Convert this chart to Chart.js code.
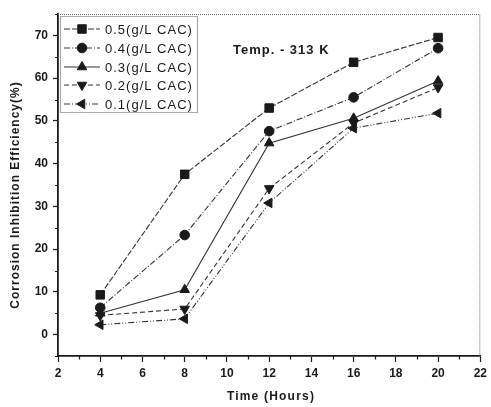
<!DOCTYPE html>
<html>
<head>
<meta charset="utf-8">
<script src="https://cdn.jsdelivr.net/npm/chart.js@4.4.1/dist/chart.umd.min.js"></script>
<style>
  html, body { margin: 0; padding: 0; background: #fff; }
  #wrap { width: 491px; height: 407px; }
</style>
</head>
<body>
<div id="wrap"><canvas id="chart" width="491" height="407"></canvas></div>
<script>
// Datos
const hours = [4, 8, 12, 16, 20];
const seriesLabels = ['0.5(g/L CAC)', '0.4(g/L CAC)', '0.3(g/L CAC)', '0.2(g/L CAC)', '0.1(g/L CAC)'];
const cac05 = [9.3, 37.5, 53.0, 63.7, 69.5];
const cac04 = [6.3, 23.3, 47.6, 55.5, 67.0];
const cac03 = [5.0, 10.5, 44.8, 50.6, 59.3];
const cac02 = [4.5, 6.0, 34.2, 49.5, 57.8];
const cac01 = [2.3, 3.7, 30.8, 48.3, 51.8];
const xTicks = [2, 4, 6, 8, 10, 12, 14, 16, 18, 20, 22];
const yTicks = [0, 10, 20, 30, 40, 50, 60, 70];

const FONT = 'Liberation Sans, Arial, sans-serif';
const INK = '#1a1a1a';

const styles = [
    { dash: [6, 2], point: 'rect', rot: 0, r: 6 },
    { dash: [6, 2, 1, 2], point: 'circle', rot: 0, r: 4.8 },
    { dash: [], point: 'triangle', rot: 0, r: 5.5 },
    { dash: [5, 3], point: 'triangle', rot: 180, r: 5.5 },
    { dash: [6, 2, 1, 2, 1, 2], point: 'triangle', rot: -90, r: 5.5 }
];

function makeDataset(label, values, st) {
    return {
        label: label,
        data: hours.map((h, i) => ({ x: h, y: values[i] })),
        showLine: true,
        borderColor: '#333',
        borderWidth: 1.1,
        borderDash: st.dash,
        backgroundColor: INK,
        pointBackgroundColor: INK,
        pointBorderColor: INK,
        pointStyle: st.point,
        pointRotation: st.rot,
        pointRadius: st.r,
        pointBorderWidth: 1
    };
}

// Marco punteado, ticks menores, leyenda y textos
const decorPlugin = {
    id: 'decor',
    afterDraw(chart) {
        const ctx = chart.ctx;
        const a = chart.chartArea;
        const xs = chart.scales.x, ys = chart.scales.y;
        ctx.save();

        // bordes superior y derecho punteados
        ctx.strokeStyle = '#666';
        ctx.lineWidth = 1;
        ctx.setLineDash([1, 1]);
        ctx.beginPath();
        ctx.moveTo(a.left, a.top + 0.5);
        ctx.lineTo(a.right - 0.5, a.top + 0.5);
        ctx.lineTo(a.right - 0.5, a.bottom);
        ctx.stroke();
        ctx.setLineDash([]);

        // ticks menores
        ctx.strokeStyle = INK;
        ctx.lineWidth = 1.2;
        ctx.beginPath();
        for (let v = 3; v < 22; v += 2) {
            const px = Math.round(xs.getPixelForValue(v)) + 0.5;
            ctx.moveTo(px, a.bottom);
            ctx.lineTo(px, a.bottom + 3.5);
        }
        for (let v = -5; v <= 75; v += 10) {
            const py = Math.round(ys.getPixelForValue(v)) + 0.5;
            ctx.moveTo(a.left, py);
            ctx.lineTo(a.left - 3, py);
        }
        ctx.stroke();

        // leyenda
        const lx = 60, ly = 16, lw = 137, lh = 96;
        ctx.fillStyle = '#fff';
        ctx.fillRect(lx, ly, lw, lh);
        ctx.strokeStyle = '#555';
        ctx.setLineDash([1, 1]);
        ctx.strokeRect(lx + 0.5, ly + 0.5, lw, lh);
        ctx.setLineDash([]);
        const rowsY = [29, 48, 67, 85, 104];
        ctx.font = '13px ' + FONT;
        ctx.letterSpacing = '1px';
        ctx.textBaseline = 'middle';
        ctx.textAlign = 'left';
        chart.data.datasets.forEach((ds, i) => {
            const y = rowsY[i];
            ctx.strokeStyle = '#333';
            ctx.lineWidth = 1.1;
            ctx.setLineDash(ds.borderDash);
            ctx.beginPath();
            ctx.moveTo(64, y);
            ctx.lineTo(100, y);
            ctx.stroke();
            ctx.setLineDash([]);
            ctx.fillStyle = INK;
            ctx.strokeStyle = INK;
            ctx.lineWidth = 1;
            Chart.helpers.drawPoint(ctx, {
                pointStyle: ds.pointStyle,
                rotation: ds.pointRotation,
                radius: ds.pointRadius,
                borderWidth: 1
            }, 82, y);
            ctx.fillStyle = INK;
            ctx.fillText(ds.label, 105, y + 1);
        });

        // anotación de temperatura
        ctx.font = 'bold 13px ' + FONT;
        ctx.letterSpacing = '1px';
        ctx.fillText('Temp. - 313 K', 233, 50);

        // títulos de ejes
        ctx.font = 'bold 12px ' + FONT;
        ctx.letterSpacing = '1.2px';
        ctx.textAlign = 'center';
        ctx.fillText('Time (Hours)', 271, 397);
        ctx.translate(16, 195);
        ctx.rotate(-Math.PI / 2);
        ctx.letterSpacing = '1px';
        ctx.fillText('Corrosion Inhibition Efficiency(%)', 0, 0);
        ctx.restore();
    }
};

new Chart(document.getElementById('chart'), {
    type: 'scatter',
    data: {
        datasets: [
            makeDataset(seriesLabels[0], cac05, styles[0]),
            makeDataset(seriesLabels[1], cac04, styles[1]),
            makeDataset(seriesLabels[2], cac03, styles[2]),
            makeDataset(seriesLabels[3], cac02, styles[3]),
            makeDataset(seriesLabels[4], cac01, styles[4])
        ]
    },
    options: {
        responsive: false,
        animation: false,
        layout: { padding: { left: 0, right: 9, top: 14, bottom: 0 } },
        plugins: {
            legend: { display: false },
            tooltip: { enabled: false }
        },
        scales: {
            x: {
                type: 'linear',
                min: 2,
                max: 22,
                afterBuildTicks: s => { s.ticks = xTicks.map(v => ({ value: v })); },
                afterFit: s => { s.height = 51; },
                grid: { display: true, drawOnChartArea: false, tickLength: 6, tickColor: INK, tickWidth: 1.2 },
                border: { display: true, color: INK, width: 1.8 },
                ticks: { color: INK, padding: 4, maxRotation: 0, font: { family: FONT, size: 12, weight: 'bold' } }
            },
            y: {
                type: 'linear',
                min: -5,
                max: 75,
                afterBuildTicks: s => { s.ticks = yTicks.map(v => ({ value: v })); },
                afterFit: s => { s.width = 58; },
                grid: { display: true, drawOnChartArea: false, tickLength: 5, tickColor: INK, tickWidth: 1.2 },
                border: { display: true, color: INK, width: 1.8 },
                ticks: { color: INK, padding: 5, font: { family: FONT, size: 12, weight: 'bold' } }
            }
        }
    },
    plugins: [decorPlugin]
});
</script>
</body>
</html>
